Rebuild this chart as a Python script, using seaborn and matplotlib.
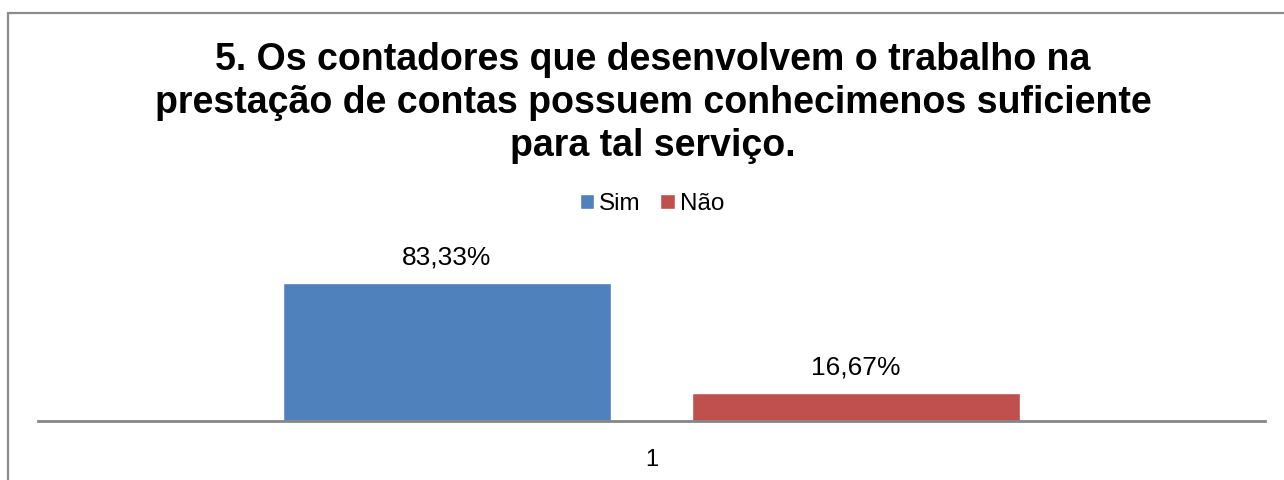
import matplotlib
matplotlib.use("Agg")
import matplotlib.pyplot as plt
import seaborn as sns
import pandas as pd
from matplotlib.patches import Rectangle

categories = ["1"]
series = ["Sim", "Não"]
values = [83.33, 16.67]
value_labels = ["83,33%", "16,67%"]
title = "5. Os contadores que desenvolvem o trabalho na\nprestação de contas possuem conhecimenos suficiente\npara tal serviço."
colors = ["#4F81BD", "#C0504D"]

sns.set_theme(style="white")
plt.rcParams['font.family'] = ['Liberation Sans', 'DejaVu Sans']
plt.rcParams['text.color'] = 'black'
plt.rcParams['xtick.color'] = 'black'

W, H = 1284, 480
fig = plt.figure(figsize=(W / 100, H / 100), dpi=100)
fig.patch.set_facecolor("white")

# outer chart frame
fig.patches.append(Rectangle((8 / W, -0.05), 1.2, (H - 13) / H + 0.05, transform=fig.transFigure,
                             fill=False, edgecolor="#8C8C8C", linewidth=1.6, zorder=0))

ax_left, ax_right = 38 / W, 1265 / W
ax_bottom = (H - 421) / H
ax_top = (H - 255.4) / H
ax = fig.add_axes([ax_left, ax_bottom, ax_right - ax_left, ax_top - ax_bottom])

df = pd.DataFrame({"cat": categories * len(series), "serie": series, "valor": values})
sns.barplot(data=df, x="cat", y="valor", hue="serie", hue_order=series, palette=colors,
            width=2 / 3, gap=0.2, saturation=1, ax=ax, legend=False)

ax.set_ylim(0, 100)
ax.set_xlim(-0.5, 0.5)
ax.set_xlabel("")
ax.set_ylabel("")
ax.set_yticks([])
for s in ["top", "left", "right"]:
    ax.spines[s].set_visible(False)
ax.spines["bottom"].set_color("#868686")
ax.spines["bottom"].set_linewidth(2)
ax.tick_params(axis="x", length=0, pad=20, labelsize=17, labelcolor="black")
ax.set_facecolor("none")

for cont, lab in zip(ax.containers, value_labels):
    ax.bar_label(cont, labels=[lab], padding=10, fontsize=19, color="black")

fig.text(653 / W, (H - 103) / H, title, ha="center", va="center", fontsize=27,
         fontweight="bold", linespacing=1.26, color="black")

handles = [Rectangle((0, 0), 1, 1, facecolor=c) for c in colors]
fig.legend(handles, series, loc="center", bbox_to_anchor=(652 / W, (H - 204) / H), ncol=2,
           frameon=False, fontsize=17.5, handlelength=0.6, handleheight=0.6,
           handletextpad=0.2, columnspacing=0.8, labelcolor="black")

fig.savefig("out.png", dpi=100)
